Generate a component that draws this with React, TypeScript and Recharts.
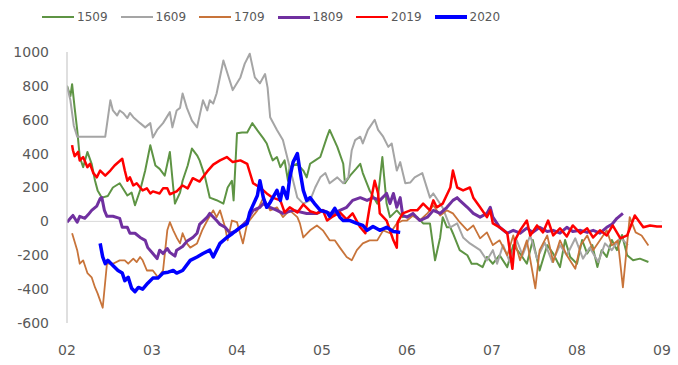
import { Legend, Line, LineChart, ReferenceLine, XAxis, YAxis } from "recharts";

// [month position, value] — 2.5 means halfway through month 02
type Pt = [number, number];

const s1509: Pt[] = [
  [2.0, 800], [2.04, 740], [2.06, 810], [2.09, 670], [2.12, 540], [2.15, 380], [2.19, 320], [2.24, 410],
  [2.29, 340], [2.33, 240], [2.36, 183], [2.41, 140], [2.48, 150], [2.54, 200], [2.62, 225], [2.71, 153],
  [2.76, 170], [2.8, 95], [2.86, 183], [2.92, 300], [2.98, 450], [3.04, 330], [3.09, 310], [3.15, 270],
  [3.21, 410], [3.25, 200], [3.27, 105], [3.33, 170], [3.36, 240], [3.42, 330], [3.47, 430], [3.53, 390],
  [3.56, 360], [3.62, 270], [3.68, 140], [3.76, 125], [3.84, 105], [3.89, 200], [3.94, 240], [3.96, 124],
  [4.0, 520], [4.06, 525], [4.12, 525], [4.18, 580], [4.24, 537], [4.31, 490], [4.35, 460], [4.39, 400],
  [4.42, 360], [4.47, 380], [4.51, 320], [4.56, 360], [4.6, 240], [4.62, 320], [4.71, 340], [4.78, 300],
  [4.82, 260], [4.86, 340], [4.92, 360], [4.98, 380], [5.06, 500], [5.09, 540], [5.18, 440], [5.25, 340],
  [5.27, 225], [5.33, 270], [5.4, 310], [5.45, 340], [5.48, 285], [5.56, 183], [5.65, 105], [5.71, 380],
  [5.73, 270], [5.76, 105], [5.8, 25], [5.88, 65], [5.95, 25], [6.04, 35], [6.12, 25], [6.19, -12],
  [6.27, -12], [6.33, -230], [6.39, -95], [6.42, 25], [6.47, -35], [6.51, -35], [6.54, -70], [6.62, -170],
  [6.71, -200], [6.76, -250], [6.82, -250], [6.89, -270], [6.94, -210], [7.01, -250], [7.09, -200],
  [7.18, -270], [7.25, -140], [7.33, -190], [7.41, -250], [7.48, -110], [7.56, -290], [7.65, -140],
  [7.72, -190], [7.8, -270], [7.86, -110], [7.92, -210], [8.0, -250], [8.06, -110], [8.12, -190],
  [8.18, -140], [8.24, -270], [8.29, -170], [8.35, -210], [8.41, -110], [8.47, -170], [8.53, -80],
  [8.59, -200], [8.66, -230], [8.74, -220], [8.84, -240],
];

const s1609: Pt[] = [
  [2.0, 800], [2.04, 715], [2.08, 565], [2.12, 500], [2.45, 500], [2.51, 715], [2.54, 655], [2.59, 625],
  [2.62, 655], [2.66, 640], [2.71, 610], [2.74, 640], [2.78, 615], [2.86, 580], [2.92, 555], [2.98, 580],
  [3.01, 495], [3.06, 540], [3.13, 580], [3.21, 645], [3.24, 555], [3.29, 655], [3.33, 670], [3.36, 755],
  [3.41, 670], [3.47, 595], [3.53, 555], [3.6, 715], [3.65, 655], [3.68, 715], [3.72, 695], [3.76, 755],
  [3.84, 950], [3.89, 870], [3.95, 775], [4.04, 850], [4.09, 930], [4.15, 990], [4.21, 850], [4.27, 815],
  [4.33, 870], [4.36, 790], [4.39, 615], [4.47, 540], [4.54, 480], [4.59, 380], [4.62, 320], [4.65, 260],
  [4.71, 140], [4.78, 105], [4.86, 124], [4.92, 200], [4.98, 260], [5.04, 285], [5.09, 225], [5.18, 260],
  [5.25, 225], [5.31, 260], [5.35, 420], [5.39, 480], [5.45, 500], [5.48, 460], [5.54, 540], [5.62, 600],
  [5.66, 540], [5.72, 500], [5.78, 440], [5.82, 460], [5.88, 300], [5.92, 350], [5.98, 225], [6.04, 230],
  [6.09, 260], [6.18, 285], [6.27, 140], [6.31, 165], [6.42, 80], [6.51, -35], [6.59, -12], [6.66, -95],
  [6.74, -130], [6.86, -170], [6.94, -230], [7.01, -170], [7.06, -250], [7.13, -140], [7.21, -240],
  [7.29, -110], [7.36, -200], [7.45, -83], [7.53, -220], [7.62, -125], [7.71, -240], [7.8, -140],
  [7.88, -200], [7.98, -100], [8.07, -220], [8.15, -155], [8.25, -240], [8.33, -130], [8.41, -170],
  [8.51, -95], [8.6, -140],
];

const s1709: Pt[] = [
  [2.06, -70], [2.12, -170], [2.15, -250], [2.19, -230], [2.24, -305], [2.29, -330], [2.33, -390],
  [2.36, -425], [2.42, -510], [2.47, -250], [2.54, -250], [2.62, -230], [2.68, -230], [2.72, -250],
  [2.78, -220], [2.82, -240], [2.86, -210], [2.89, -230], [2.94, -290], [3.01, -290], [3.07, -330],
  [3.13, -290], [3.18, -53], [3.21, -5], [3.25, -53], [3.29, -95], [3.33, -130], [3.36, -70], [3.41, -130],
  [3.45, -155], [3.53, -130], [3.59, -53], [3.65, 5], [3.72, 65], [3.76, 25], [3.8, 65], [3.86, -35],
  [3.89, -112], [3.94, 5], [4.0, -5], [4.07, -130], [4.12, -12], [4.24, 65], [4.31, 140], [4.39, 65],
  [4.47, 83], [4.54, 25], [4.62, 65], [4.71, 25], [4.74, -12], [4.78, -95], [4.86, -53], [4.94, -24],
  [5.01, -53], [5.09, -112], [5.15, -112], [5.21, -155], [5.29, -210], [5.35, -230], [5.41, -170],
  [5.48, -130], [5.56, -112], [5.65, -112], [5.72, -53], [5.8, -70], [5.88, -12], [5.95, 5], [6.0, 5],
  [6.07, 35], [6.15, 5], [6.24, 47], [6.31, 95], [6.39, 35], [6.47, 65], [6.54, 47], [6.62, -5],
  [6.71, -53], [6.78, -24], [6.86, -100], [6.94, -65], [7.01, -140], [7.09, -112], [7.18, -200],
  [7.25, -83], [7.33, -230], [7.41, -112], [7.51, -395], [7.56, -170], [7.65, -83], [7.72, -240],
  [7.8, -112], [7.88, -200], [7.98, -280], [8.04, -142], [8.12, -83], [8.19, -170], [8.27, -112],
  [8.35, -53], [8.41, -142], [8.48, -112], [8.54, -390], [8.62, 25], [8.69, -65], [8.76, -83], [8.84, -142],
];

const s1809: Pt[] = [
  [2.0, -5], [2.04, 18], [2.07, 35], [2.12, -5], [2.15, 30], [2.21, 18], [2.25, 40], [2.29, 65],
  [2.35, 90], [2.39, 135], [2.41, 140], [2.44, 65], [2.47, 30], [2.54, 30], [2.62, 18], [2.65, -35],
  [2.71, -35], [2.74, -70], [2.8, -70], [2.86, -95], [2.92, -112], [2.95, -155], [3.01, -190],
  [3.06, -220], [3.09, -170], [3.13, -190], [3.18, -160], [3.21, -183], [3.27, -205], [3.29, -170],
  [3.36, -148], [3.41, -118], [3.48, -95], [3.53, -70], [3.56, -18], [3.65, 25], [3.68, 47], [3.76, 5],
  [3.8, -18], [3.86, -35], [3.92, -70], [3.98, -60], [4.04, -35], [4.12, 5], [4.19, 65], [4.27, 83],
  [4.31, 105], [4.39, 83], [4.47, 65], [4.54, 47], [4.66, 65], [4.82, 47], [4.94, 47], [5.01, 65],
  [5.13, 40], [5.21, 65], [5.29, 83], [5.36, 124], [5.45, 140], [5.53, 124], [5.6, 140], [5.68, 124],
  [5.76, 165], [5.8, 105], [5.84, 165], [5.88, 83], [5.92, 140], [5.95, 35], [6.0, 25], [6.07, 47],
  [6.15, 5], [6.24, 25], [6.31, 65], [6.39, 47], [6.47, 83], [6.54, 124], [6.59, 140], [6.62, 124],
  [6.71, 83], [6.78, 47], [6.86, 25], [6.94, 47], [6.98, 83], [7.01, 25], [7.09, -35], [7.18, -70],
  [7.25, -53], [7.33, -70], [7.41, -40], [7.48, -65], [7.56, -35], [7.65, -60], [7.72, -53], [7.8, -70],
  [7.88, -35], [7.95, -60], [8.04, -53], [8.12, -65], [8.19, -53], [8.27, -70], [8.35, -35], [8.41, -18],
  [8.47, 18], [8.54, 47],
];

const s2019: Pt[] = [
  [2.06, 450], [2.07, 420], [2.09, 385], [2.13, 410], [2.15, 360], [2.19, 380], [2.24, 320], [2.27, 340],
  [2.31, 285], [2.35, 260], [2.39, 300], [2.45, 270], [2.51, 300], [2.56, 330], [2.65, 370], [2.68, 300],
  [2.71, 240], [2.74, 260], [2.78, 212], [2.82, 225], [2.86, 200], [2.89, 183], [2.94, 195], [2.98, 165],
  [3.01, 177], [3.09, 165], [3.13, 195], [3.18, 195], [3.21, 160], [3.29, 177], [3.36, 212], [3.42, 195],
  [3.48, 255], [3.56, 235], [3.65, 295], [3.72, 335], [3.8, 360], [3.88, 380], [3.95, 350], [4.04, 360],
  [4.12, 340], [4.15, 290], [4.19, 225], [4.27, 200], [4.35, 165], [4.42, 140], [4.51, 124], [4.56, 53],
  [4.62, 83], [4.71, 53], [4.78, 100], [4.86, 60], [4.94, 47], [5.01, 65], [5.06, 5], [5.13, 30],
  [5.21, 53], [5.29, 12], [5.36, 47], [5.45, -35], [5.51, -70], [5.56, 83], [5.62, 240], [5.66, 165],
  [5.68, 47], [5.76, 5], [5.84, -112], [5.88, -155], [5.89, -5], [5.95, 47], [6.04, 65], [6.12, 65],
  [6.19, 105], [6.27, 65], [6.31, 124], [6.35, 83], [6.42, 105], [6.51, 200], [6.54, 300], [6.59, 200],
  [6.66, 183], [6.74, 200], [6.78, 140], [6.86, 83], [6.94, 25], [6.98, 65], [7.01, -12], [7.09, -35],
  [7.18, -70], [7.24, -280], [7.27, -112], [7.33, -53], [7.41, 5], [7.45, -83], [7.53, -24], [7.6, -65],
  [7.66, 5], [7.72, -83], [7.8, -41], [7.88, -89], [7.95, -24], [8.04, -71], [8.12, -41], [8.19, -95],
  [8.27, -53], [8.35, -83], [8.42, -24], [8.51, -100], [8.59, -83], [8.68, 35], [8.78, -35], [8.86, -24],
  [8.94, -30], [9.0, -30],
];

const s2020: Pt[] = [
  [2.39, -130], [2.42, -210], [2.45, -250], [2.48, -230], [2.54, -260], [2.6, -290], [2.65, -305],
  [2.68, -350], [2.72, -330], [2.76, -395], [2.8, -415], [2.84, -390], [2.89, -400], [2.95, -365],
  [3.01, -335], [3.07, -335], [3.13, -305], [3.19, -300], [3.25, -290], [3.29, -305], [3.36, -290],
  [3.45, -230], [3.53, -210], [3.6, -190], [3.68, -170], [3.72, -210], [3.8, -130], [3.88, -95],
  [3.95, -70], [4.04, -35], [4.12, -12], [4.15, 53], [4.24, 153], [4.27, 240], [4.31, 140], [4.35, 83],
  [4.39, 112], [4.47, 183], [4.51, 124], [4.54, 200], [4.59, 135], [4.62, 255], [4.66, 350], [4.71, 400],
  [4.74, 300], [4.78, 183], [4.82, 124], [4.86, 140], [4.92, 100], [4.98, 65], [5.06, 53], [5.09, 30],
  [5.15, 77], [5.21, 25], [5.25, 5], [5.33, 5], [5.41, -12], [5.48, -24], [5.53, -53], [5.6, -30],
  [5.68, -53], [5.76, -35], [5.84, -60], [5.92, -65],
];

const monthTicks = [2, 3, 4, 5, 6, 7, 8, 9];
const valueTicks = [-600, -400, -200, 0, 200, 400, 600, 800, 1000];

const series = [
  { name: "1509", points: s1509, color: "#5E9444", width: 2 },
  { name: "1609", points: s1609, color: "#A5A5A5", width: 2 },
  { name: "1709", points: s1709, color: "#C8743A", width: 1.8 },
  { name: "1809", points: s1809, color: "#7030A0", width: 3 },
  { name: "2019", points: s2019, color: "#FF0000", width: 2.5 },
  { name: "2020", points: s2020, color: "#0000FF", width: 3.5 },
];

const FONT = "'DejaVu Sans', sans-serif";
const TEXT = "#595959";

const toRows = (pts: Pt[]) => pts.map(([m, v]) => ({ m, v }));

function LegendRow() {
  return (
    <div style={{ display: "flex", paddingLeft: 42, fontFamily: FONT, fontSize: 12, color: TEXT }}>
      {series.map((s) => (
        <div key={s.name} style={{ display: "flex", alignItems: "center", width: 78.5 }}>
          <span style={{ display: "inline-block", width: 32, height: s.width, background: s.color, marginRight: 3 }} />
          <span>{s.name}</span>
        </div>
      ))}
    </div>
  );
}

export default function App() {
  return (
    <div style={{ position: "absolute", left: 0, top: 0, background: "#fff" }}>
      <LineChart width={678} height={365} margin={{ top: 52, right: 16, bottom: 0, left: 0 }}>
        <XAxis
          dataKey="m"
          type="number"
          domain={[2, 9]}
          ticks={monthTicks}
          interval={0}
          allowDataOverflow
          height={42}
          axisLine={false}
          tickLine={false}
          tickMargin={16}
          tick={{ fontSize: 14, fill: TEXT, fontFamily: FONT }}
          tickFormatter={(m: number) => String(m).padStart(2, "0")}
        />
        <YAxis
          type="number"
          domain={[-600, 1000]}
          ticks={valueTicks}
          interval={0}
          width={67}
          tickLine={false}
          axisLine={{ stroke: "#BFBFBF" }}
          tickMargin={12}
          tick={{ fontSize: 14, fill: TEXT, fontFamily: FONT }}
        />
        <ReferenceLine y={0} stroke="#D9D9D9" strokeWidth={1} />
        <Legend
          verticalAlign="middle"
          content={<LegendRow />}
          wrapperStyle={{ top: 10, left: 0, width: 678 }}
        />
        {series.map((s) => (
          <Line
            key={s.name}
            name={s.name}
            data={toRows(s.points)}
            dataKey="v"
            type="linear"
            stroke={s.color}
            strokeWidth={s.width}
            strokeLinejoin="round"
            dot={false}
            activeDot={false}
            isAnimationActive={false}
          />
        ))}
      </LineChart>
    </div>
  );
}
